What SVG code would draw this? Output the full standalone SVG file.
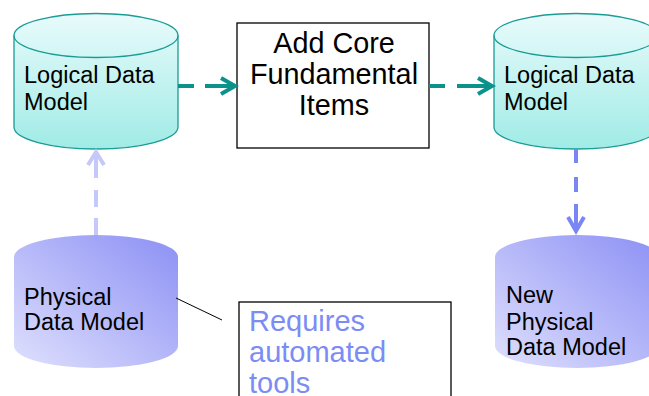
<svg xmlns="http://www.w3.org/2000/svg" width="649" height="396" viewBox="0 0 649 396">
  <defs>
    <linearGradient id="gLogical" x1="0" y1="0" x2="0" y2="1">
      <stop offset="0" stop-color="#e8fbfb"/>
      <stop offset="1" stop-color="#a0ebe6"/>
    </linearGradient>
    <linearGradient id="gPhysical" x1="0" y1="1" x2="1" y2="0">
      <stop offset="0" stop-color="#dfe0fd"/>
      <stop offset="1" stop-color="#8c90f4"/>
    </linearGradient>
    <style>
      .lbl { font-family: "Liberation Sans", Arial, sans-serif; font-size: 23.5px; fill: #000; }
      .box-txt { font-family: "Liberation Sans", Arial, sans-serif; font-size: 28.8px; fill: #000; text-anchor: middle; }
      .note-txt { font-family: "Liberation Sans", Arial, sans-serif; font-size: 29px; fill: #7b8cf5; }
      .cyl-l { fill: url(#gLogical); stroke: #1a9c95; stroke-width: 1.3; }
      .cyl-l-top { fill: none; stroke: #1a9c95; stroke-width: 1.3; }
      .cyl-p { fill: url(#gPhysical); stroke: none; }
      .box { fill: #fff; stroke: #000; stroke-width: 1.3; }
      .teal { stroke: #0b928a; stroke-width: 4; fill: none; stroke-linecap: butt; }
      .teal-head { stroke: #0b928a; stroke-width: 4; fill: none; stroke-linejoin: miter; }
      .blue { stroke: #7b86f5; stroke-width: 4; fill: none; }
      .lav { stroke: #c5c9fa; stroke-width: 4; fill: none; }
    </style>
  </defs>

  <!-- Logical Data Model (left) -->
  <g id="logical-left">
    <path class="cyl-l" d="M14,35.5 L14,127 A82,22 0 0 0 178,127 L178,35.5 A82,22 0 0 0 14,35.5 Z"/>
    <path class="cyl-l-top" d="M14,35.5 A82,22 0 0 0 178,35.5"/>
    <text class="lbl" x="24" y="83">Logical Data</text>
    <text class="lbl" x="24" y="110">Model</text>
  </g>

  <!-- Add Core Fundamental Items -->
  <g id="add-core">
    <rect class="box" x="237" y="23" width="192" height="125"/>
    <text class="box-txt" x="334" y="53">Add Core</text>
    <text class="box-txt" x="334" y="84">Fundamental</text>
    <text class="box-txt" x="334" y="115">Items</text>
  </g>

  <!-- Logical Data Model (right) -->
  <g id="logical-right">
    <path class="cyl-l" d="M494,35.5 L494,127 A82,22 0 0 0 658,127 L658,35.5 A82,22 0 0 0 494,35.5 Z"/>
    <path class="cyl-l-top" d="M494,35.5 A82,22 0 0 0 658,35.5"/>
    <text class="lbl" x="504" y="83">Logical Data</text>
    <text class="lbl" x="504" y="110">Model</text>
  </g>

  <!-- Physical Data Model (left) -->
  <g id="physical-left">
    <path class="cyl-p" d="M14,257 L14,346 A82,22 0 0 0 178,346 L178,257 A82,22 0 0 0 14,257 Z"/>
    <text class="lbl" x="24" y="305">Physical</text>
    <text class="lbl" x="24" y="330">Data Model</text>
  </g>

  <!-- New Physical Data Model (right) -->
  <g id="physical-right">
    <path class="cyl-p" d="M495,257 L495,346 A82,22 0 0 0 659,346 L659,257 A82,22 0 0 0 495,257 Z"/>
    <text class="lbl" x="506" y="303">New</text>
    <text class="lbl" x="506" y="330">Physical</text>
    <text class="lbl" x="506" y="355">Data Model</text>
  </g>

  <!-- Note box -->
  <g id="note">
    <rect class="box" x="239" y="302" width="212" height="110"/>
    <text class="note-txt" x="249" y="331">Requires</text>
    <text class="note-txt" x="249" y="362">automated</text>
    <text class="note-txt" x="249" y="393">tools</text>
  </g>

  <!-- Connectors -->
  <g id="connectors">
    <!-- left logical to box -->
    <path class="teal" d="M178,86 H194 M205,86 H233"/>
    <polyline class="teal-head" points="221,78 235,86 221,94"/>
    <!-- box to right logical -->
    <path class="teal" d="M429,86 H445 M457,86 H490"/>
    <polyline class="teal-head" points="478,78 492,86 478,94"/>
    <!-- right logical down to new physical -->
    <path class="blue" d="M576,149 V163 M576,177 V192 M576,204 V229"/>
    <polyline class="blue" points="568,217 576,231 584,217"/>
    <!-- physical up to left logical -->
    <path class="lav" d="M96,235 V218 M96,207 V190 M96,178 V153"/>
    <polyline class="lav" points="88,165 96,152 104,165"/>
    <!-- note leader -->
    <line x1="176" y1="298" x2="222" y2="320" stroke="#000" stroke-width="1"/>
  </g>
</svg>
